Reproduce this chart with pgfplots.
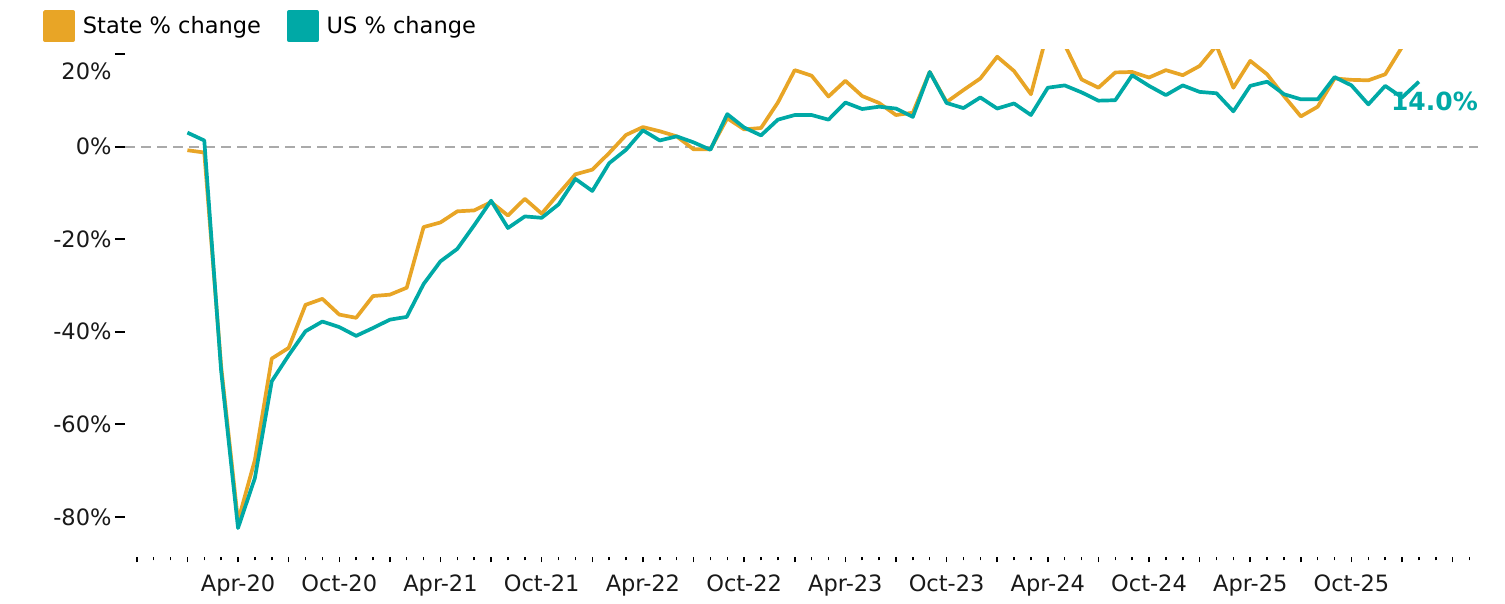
\documentclass[border=0pt]{standalone}
\usepackage{pgfplots}
\pgfplotsset{compat=1.18}
\usepackage{pgfplotstable}
\usepackage{fontspec}
\setmainfont{DejaVu Sans}
\definecolor{stateor}{HTML}{E8A526}
\definecolor{usteal}{HTML}{00A9A6}
\definecolor{zerogray}{HTML}{AAAAAA}

\pgfplotstableread{
m v
0 -0.8
1 -1.3
2 -47.5
3 -80.9
4 -67.7
5 -45.8
6 -43.5
7 -34.2
8 -32.9
9 -36.3
10 -37.0
11 -32.3
12 -32.0
13 -30.5
14 -17.4
15 -16.4
16 -14.0
17 -13.8
18 -12.0
19 -14.9
20 -11.3
21 -14.5
22 -10.2
23 -6.0
24 -5.0
25 -1.4
26 2.5
27 4.2
28 3.3
29 2.2
30 -0.6
31 -0.6
32 6.1
33 3.7
34 4.0
35 9.5
36 16.5
37 15.3
38 10.8
39 14.2
40 10.9
41 9.4
42 6.8
43 7.3
44 16.1
45 9.6
46 12.2
47 14.7
48 19.4
49 16.3
50 11.3
51 25.0
52 22.0
53 14.5
54 12.7
55 16.0
56 16.1
57 14.9
58 16.5
59 15.4
60 17.4
61 21.8
62 12.7
63 18.5
64 15.6
65 10.9
66 6.5
67 8.6
68 14.7
69 14.4
70 14.3
71 15.6
72 21.5
}\statedata

\pgfplotstableread{
m v
0 3.0
1 1.3
2 -48.5
3 -82.4
4 -71.6
5 -50.7
6 -45.1
7 -39.9
8 -37.8
9 -39.0
10 -40.9
11 -39.2
12 -37.4
13 -36.8
14 -29.7
15 -24.8
16 -22.1
17 -17.0
18 -11.7
19 -17.6
20 -15.1
21 -15.4
22 -12.5
23 -7.0
24 -9.6
25 -3.6
26 -0.7
27 3.5
28 1.3
29 2.2
30 0.9
31 -0.7
32 7.0
33 4.1
34 2.4
35 5.8
36 6.8
37 6.8
38 5.8
39 9.5
40 8.1
41 8.6
42 8.2
43 6.4
44 16.1
45 9.4
46 8.3
47 10.6
48 8.2
49 9.3
50 6.8
51 12.7
52 13.2
53 11.7
54 9.9
55 10.0
56 15.4
57 13.1
58 11.1
59 13.2
60 11.8
61 11.5
62 7.6
63 13.1
64 14.0
65 11.3
66 10.2
67 10.2
68 15.0
69 13.2
70 9.1
71 13.1
72 10.6
73 14.0
}\usdata

\begin{document}
\begin{tikzpicture}
\useasboundingbox (0pt,0pt) rectangle (1505pt,604pt);
\begin{axis}[
  at={(125pt,46.5pt)}, anchor=south west,
  scale only axis, width=1353pt, height=508.2pt,
  xmin=-3.7, xmax=76.5, ymin=-88.77, ymax=21,
  axis line style={draw=none},
  tick pos=left, tick align=outside,
  major tick length=10pt, minor tick length=3pt,
  every tick/.style={black, line width=2pt},
  every minor tick/.style={black, line width=1.5pt},
  every major x tick/.style={draw=none},
  ytick={-80,-60,-40,-20,0},
  yticklabels={-80\%,-60\%,-40\%,-20\%,0\%},
  extra y ticks={20}, extra y tick labels={20\%},
  extra y tick style={yticklabel style={yshift=-17pt}},
  xtick={3,9,...,69},
  xticklabels={Apr-20,Oct-20,Apr-21,Oct-21,Apr-22,Oct-22,Apr-23,Oct-23,Apr-24,Oct-24,Apr-25,Oct-25},
  minor xtick={-3,-2,...,76},
  extra x ticks={-3,0,...,75},
  extra x tick labels={},
  extra x tick style={major tick length=5pt, every major x tick/.style={black, line width=1.5pt}},
  xticklabel style={yshift=-4pt},
  ticklabel style={font=\fontsize{22.5}{26}\selectfont, text=black!90},
  legend columns=2,
  legend style={at={(axis description cs:-0.0606,1.0773)}, anchor=north west,
    draw=none, fill=none, inner sep=0pt, font=\fontsize{22.5}{26}\selectfont,
    /tikz/every even column/.append style={column sep=24pt},
    /tikz/every odd column/.append style={column sep=6pt}},
  legend image code/.code={\fill[#1] (0pt,-14pt) rectangle (28pt,14pt);},
  clip mode=individual,
]
\addplot[zerogray, line width=2pt, dash pattern=on 10pt off 6pt, forget plot] coordinates {(-3.7,0) (76.5,0)};
\addplot[stateor, line width=3.7pt, line join=round] table[x=m, y=v] {\statedata};
\addlegendentry{State \% change}
\addplot[usteal, line width=3.7pt, line join=round] table[x=m, y=v] {\usdata};
\addlegendentry{US \% change}
\node[anchor=east, inner sep=0pt, text=usteal, font=\fontsize{25}{29}\selectfont\bfseries] at (axis cs:76.5,9.8) {14.0\%};
\end{axis}
\end{tikzpicture}
\end{document}
